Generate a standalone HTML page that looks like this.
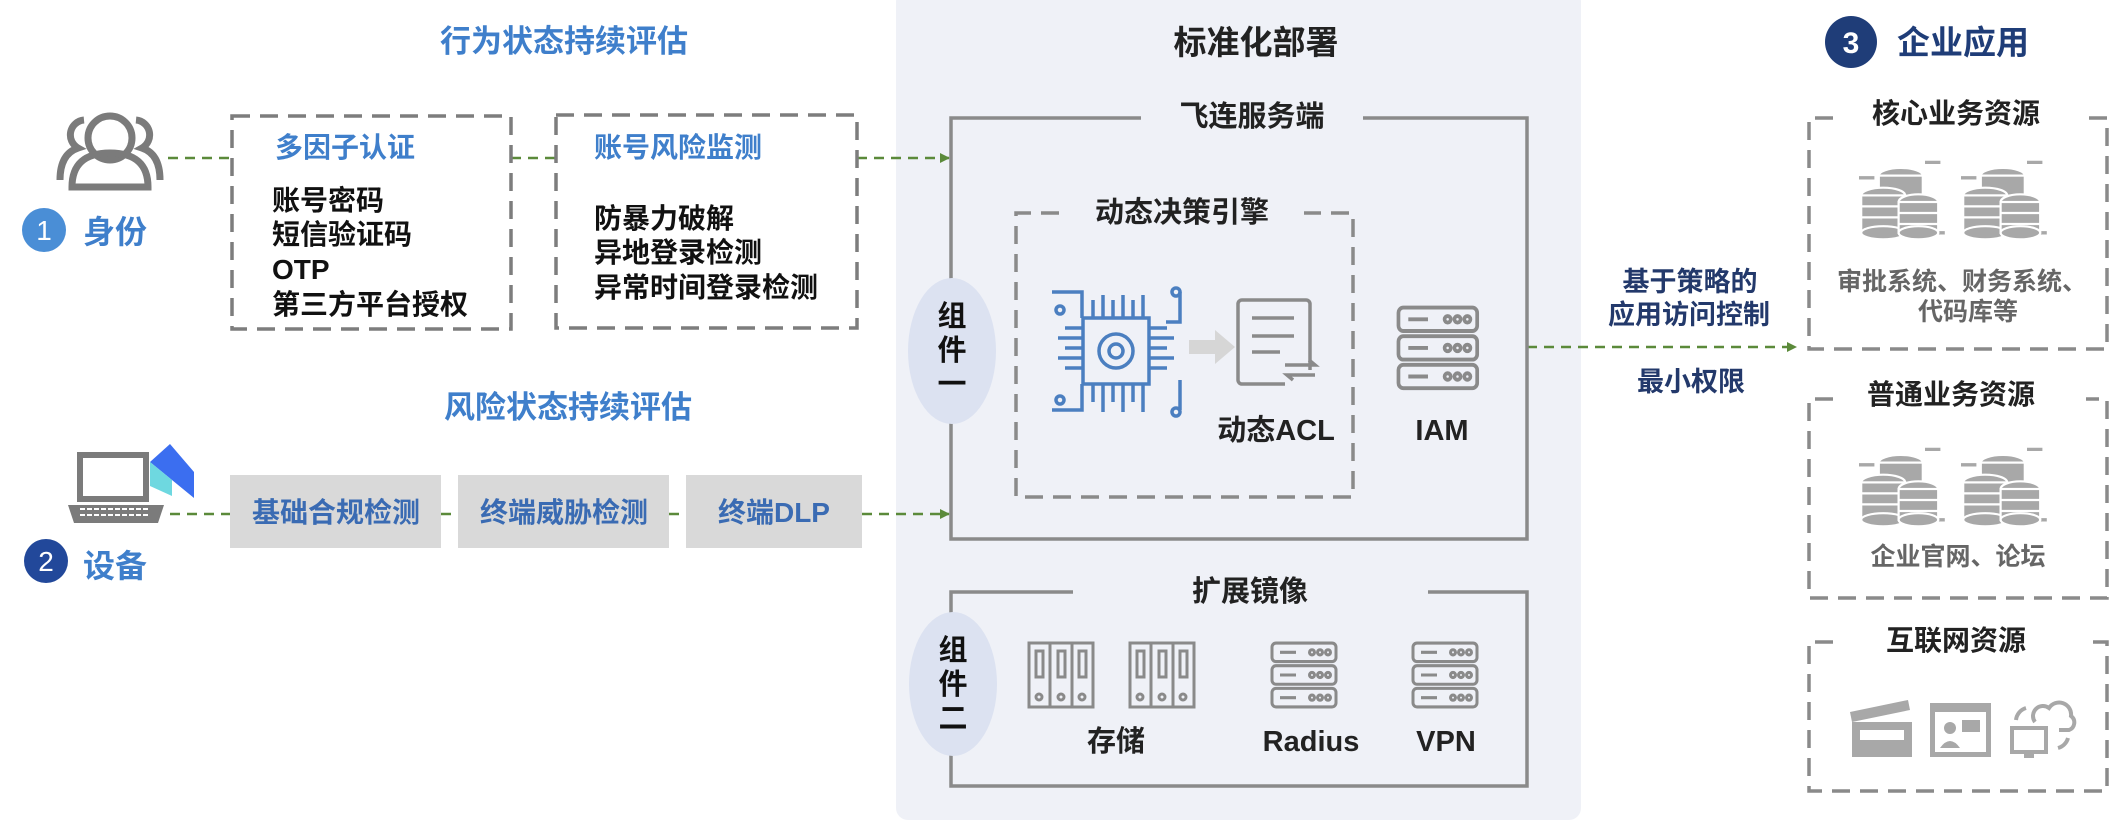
<!DOCTYPE html>
<html><head><meta charset="utf-8"><style>
html,body{margin:0;padding:0;background:#fff;}
svg{display:block;font-family:"Liberation Sans","Noto Sans CJK SC",sans-serif;}
</style></head><body>
<svg width="2115" height="824" viewBox="0 0 2115 824" xmlns="http://www.w3.org/2000/svg">
<defs>
<marker id="ga" markerWidth="10" markerHeight="10" refX="9" refY="5" orient="auto" markerUnits="userSpaceOnUse"><path d="M0,0 L10,5 L0,10z" fill="#5b8a3a"/></marker>
<g id="srv" fill="none" stroke="#8a8a8a" stroke-width="3">
<rect x="2" y="2" width="64" height="18" rx="4"/><rect x="2" y="24" width="64" height="18" rx="4"/><rect x="2" y="46" width="64" height="18" rx="4"/>
<path d="M10 11h16M10 33h16M10 55h16"/>
<circle cx="42" cy="11" r="2.5"/><circle cx="50" cy="11" r="2.5"/><circle cx="58" cy="11" r="2.5"/>
<circle cx="42" cy="33" r="2.5"/><circle cx="50" cy="33" r="2.5"/><circle cx="58" cy="33" r="2.5"/>
<circle cx="42" cy="55" r="2.5"/><circle cx="50" cy="55" r="2.5"/><circle cx="58" cy="55" r="2.5"/>
</g>
<g id="sto" fill="none" stroke="#8a8a8a" stroke-width="3">
<rect x="2" y="2" width="21" height="64"/><rect x="23" y="2" width="22" height="64"/><rect x="45" y="2" width="21" height="64"/>
<rect x="9" y="10" width="7" height="26"/><rect x="31" y="10" width="7" height="26"/><rect x="52" y="10" width="7" height="26"/>
<circle cx="12" cy="56" r="3"/><circle cx="34" cy="56" r="3"/><circle cx="55" cy="56" r="3"/>
</g>
<g id="db" fill="#a8a8a8" stroke="#fff" stroke-width="2">
<path d="M0 18h14M60 4h14M64 68h14" stroke="#a8a8a8" stroke-width="3"/>
<ellipse cx="38" cy="16" rx="20" ry="7"/><rect x="18" y="16" width="40" height="30"/>
<ellipse cx="22" cy="34" rx="20" ry="7"/><rect x="2" y="34" width="40" height="34"/><ellipse cx="22" cy="68" rx="20" ry="6"/>
<path d="M2 44h40M2 54h40" />
<ellipse cx="54" cy="40" rx="18" ry="7"/><rect x="36" y="40" width="36" height="28"/><ellipse cx="54" cy="68" rx="18" ry="6"/>
<path d="M36 50h36M36 60h36"/>
</g>
</defs>

<rect x="896" y="-10" width="685" height="830" rx="12" fill="#eff1f7"/>

<text x="564" y="52" font-size="31" fill="#3f7fcb" text-anchor="middle" font-weight="bold">行为状态持续评估</text>
<text x="568" y="418" font-size="31" fill="#3f7fcb" text-anchor="middle" font-weight="bold">风险状态持续评估</text>
<text x="1256" y="54" font-size="33" fill="#222" text-anchor="middle" font-weight="bold">标准化部署</text>

<g fill="none" stroke="#7b7b7b" stroke-width="7">
<circle cx="110" cy="138" r="22"/>
<path d="M72 187 q0-34 38-34 q38 0 38 34 z" />
<path d="M84 120 a15 15 0 0 0 -6 28 q-18 6 -18 32 M136 120 a15 15 0 0 1 6 28 q18 6 18 32"/>
</g>
<circle cx="44" cy="230" r="22" fill="#4a8ed6"/>
<text x="44" y="240" font-size="28" fill="#fff" text-anchor="middle">1</text>
<text x="83" y="243" font-size="32" fill="#3f7fcb" font-weight="bold">身份</text>

<g>
<rect x="80" y="455" width="66" height="44" fill="none" stroke="#7b7b7b" stroke-width="6"/>
<path d="M68 505 h96 l-6 18 h-84z" fill="#7b7b7b"/>
<path d="M80 509h70M80 515h70" stroke="#fff" stroke-width="2" stroke-dasharray="5 2"/>
<path d="M150 462 l20 -18 l24 28 v26 l-22 -18z" fill="#3b6ef0"/>
<path d="M150 462 l22 18 v16 l-22 -10z" fill="#6ed8e0"/>
</g>
<circle cx="46" cy="561" r="22" fill="#22489a"/>
<text x="46" y="571" font-size="28" fill="#fff" text-anchor="middle">2</text>
<text x="83" y="577" font-size="32" fill="#3f7fcb" font-weight="bold">设备</text>

<g stroke="#5b8a3a" stroke-width="2.5" stroke-dasharray="10 7" fill="none">
<path d="M168 158 H231"/><path d="M511 158 H556"/><path d="M857 158 H949" marker-end="url(#ga)"/>
<path d="M170 514 H230"/><path d="M441 514 H458"/><path d="M669 514 H686"/><path d="M862 514 H949" marker-end="url(#ga)"/>
<path d="M1527 347 H1796" marker-end="url(#ga)"/>
</g>

<g fill="none" stroke="#7d7d7d" stroke-width="3.5" stroke-dasharray="18 10">
<rect x="232" y="116" width="279" height="213"/>
<rect x="556" y="115" width="301" height="213"/>
</g>
<text x="275" y="157" font-size="28" fill="#3f7fcb" font-weight="bold">多因子认证</text>
<g font-size="28" fill="#111" font-weight="bold">
<text x="272" y="210">账号密码</text>
<text x="272" y="244">短信验证码</text>
<text x="272" y="279">OTP</text>
<text x="272" y="314">第三方平台授权</text>
</g>
<text x="594" y="157" font-size="28" fill="#3f7fcb" font-weight="bold">账号风险监测</text>
<g font-size="28" fill="#111" font-weight="bold">
<text x="594" y="228">防暴力破解</text>
<text x="594" y="262">异地登录检测</text>
<text x="594" y="297">异常时间登录检测</text>
</g>

<g fill="#d9d9d9"><rect x="230" y="475" width="211" height="73"/><rect x="458" y="475" width="211" height="73"/><rect x="686" y="475" width="176" height="73"/></g>
<g font-size="28" fill="#3a6bb3" font-weight="bold" text-anchor="middle">
<text x="336" y="522">基础合规检测</text><text x="564" y="522">终端威胁检测</text><text x="774" y="522">终端DLP</text>
</g>

<path d="M1141 118 H951 V539 H1527 V118 H1363" fill="none" stroke="#8a8a8a" stroke-width="3.5"/>
<text x="1252" y="126" font-size="29" fill="#222" text-anchor="middle" font-weight="bold">飞连服务端</text>
<path d="M1059 213 H1016 V497 H1353 V213 H1304" fill="none" stroke="#8a8a8a" stroke-width="3.5" stroke-dasharray="18 10"/>
<text x="1182" y="222" font-size="29" fill="#222" text-anchor="middle" font-weight="bold">动态决策引擎</text>
<ellipse cx="952" cy="351" rx="44" ry="73" fill="#dce2f1"/>
<g font-size="29" fill="#111" text-anchor="middle" font-weight="bold"><text x="952" y="326">组</text><text x="952" y="360">件</text><text x="952" y="394">一</text></g>

<g stroke="#4b7fc0" stroke-width="3.5" fill="none">
<rect x="1083" y="318" width="66" height="66"/>
<circle cx="1116" cy="351" r="17"/><circle cx="1116" cy="351" r="7"/>
<path d="M1093 300v18M1103 295v23M1113 300v18M1123 295v23M1133 300v18M1143 295v23M1093 384v18M1103 384v28M1113 384v18M1123 384v28M1133 384v18M1143 384v28"/>
<path d="M1065 328h18M1058 338h25M1065 348h18M1058 358h25M1065 368h18M1149 328h18M1149 338h25M1149 348h18M1149 358h25M1149 368h18"/>
<path d="M1052 292h30v26M1180 292v30h-14M1052 410h30v-26M1180 410v-30"/>
<circle cx="1060" cy="310" r="4"/><circle cx="1176" cy="292" r="4"/><circle cx="1060" cy="400" r="4"/><circle cx="1176" cy="412" r="4"/>
</g>
<path d="M1189 340 h26 v-10 l20 17 l-20 17 v-10 h-26z" fill="#d6d6d6"/>
<g stroke="#8a8a8a" stroke-width="3.5" fill="none">
<path d="M1310 370 V304 a4 4 0 0 0 -4 -4 H1242 a4 4 0 0 0 -4 4 V380 a4 4 0 0 0 4 4 H1285"/>
<path d="M1252 318h42M1252 336h42M1252 352h28M1285 365h30l-6-5M1315 375h-28l6 5"/>
</g>
<text x="1276" y="440" font-size="29" fill="#222" text-anchor="middle" font-weight="bold">动态ACL</text>
<use href="#srv" transform="translate(1396,305) scale(1.23,1.3)"/>
<text x="1442" y="440" font-size="29" fill="#222" text-anchor="middle" font-weight="bold">IAM</text>

<path d="M1073 592 H951 V786 H1527 V592 H1428" fill="none" stroke="#8a8a8a" stroke-width="3.5"/>
<text x="1250" y="601" font-size="29" fill="#222" text-anchor="middle" font-weight="bold">扩展镜像</text>
<ellipse cx="953" cy="684" rx="44" ry="72" fill="#dce2f1"/>
<g font-size="29" fill="#111" text-anchor="middle" font-weight="bold"><text x="953" y="660">组</text><text x="953" y="694">件</text><text x="953" y="728">二</text></g>
<use href="#sto" transform="translate(1027,641)"/>
<use href="#sto" transform="translate(1128,641)"/>
<use href="#srv" transform="translate(1270,641) scale(1,1.03)"/>
<use href="#srv" transform="translate(1411,641) scale(1,1.03)"/>
<g font-size="29" fill="#222" text-anchor="middle" font-weight="bold">
<text x="1116" y="751">存储</text><text x="1311" y="751">Radius</text><text x="1446" y="751">VPN</text>
</g>

<g font-size="27" fill="#23396b" text-anchor="middle" font-weight="bold">
<text x="1690" y="291">基于策略的</text><text x="1689" y="324">应用访问控制</text><text x="1691" y="391">最小权限</text>
</g>

<circle cx="1851" cy="42" r="26" fill="#1f3d78"/>
<text x="1851" y="53" font-size="30" fill="#fff" text-anchor="middle" font-weight="bold">3</text>
<text x="1897" y="54" font-size="33" fill="#1f3d78" font-weight="bold">企业应用</text>

<g fill="none" stroke="#8a8a8a" stroke-width="3.5" stroke-dasharray="18 10">
<path d="M1833 118 H1809 V349 H2107 V118 H2086"/>
<path d="M1833 399 H1809 V598 H2107 V399 H2086"/>
<path d="M1833 642 H1809 V791 H2107 V642 H2086"/>
</g>
<g font-size="28" fill="#222" text-anchor="middle" font-weight="bold">
<text x="1956" y="123">核心业务资源</text><text x="1951" y="404">普通业务资源</text><text x="1956" y="650">互联网资源</text>
</g>
<use href="#db" transform="translate(1859,158) scale(1.1)"/><use href="#db" transform="translate(1961,158) scale(1.1)"/>
<use href="#db" transform="translate(1859,445) scale(1.1)"/><use href="#db" transform="translate(1961,445) scale(1.1)"/>
<g font-size="25" fill="#666" text-anchor="middle" font-weight="bold">
<text x="1962" y="290">审批系统、财务系统、</text><text x="1968" y="320">代码库等</text>
<text x="1958" y="565">企业官网、论坛</text>
</g>
<g fill="#a8a8a8">
<path d="M1850 712 l58 -12 l2 10 l-58 12z"/><rect x="1852" y="722" width="60" height="35"/>
<rect x="1860" y="730" width="44" height="10" fill="#fff"/>
<rect x="1930" y="703" width="61" height="54"/><rect x="1935" y="712" width="51" height="40" fill="#fff"/>
<circle cx="1950" cy="728" r="6"/><path d="M1940 748 q10-14 20 0z"/><rect x="1962" y="720" width="18" height="12"/>
<rect x="2012" y="728" width="34" height="24" fill="none" stroke="#a8a8a8" stroke-width="4"/><rect x="2024" y="752" width="10" height="6"/>
<path d="M2035 722 a10 10 0 0 1 14 -14 a12 12 0 0 1 22 8 a8 8 0 0 1 -2 14 h-10" fill="none" stroke="#a8a8a8" stroke-width="4"/>
<path d="M2016 720 a14 14 0 0 1 10 -12 M2058 748 a14 14 0 0 0 10 -10" fill="none" stroke="#a8a8a8" stroke-width="4"/>
</g>
</svg>
</body></html>
